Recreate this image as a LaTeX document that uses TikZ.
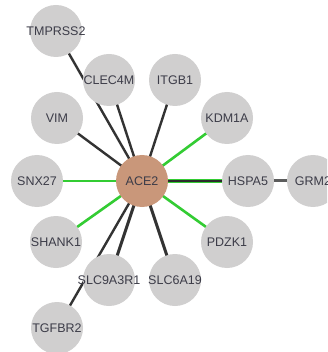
\documentclass[tikz,border=0pt]{standalone}
\usepackage{fontspec}
\setmainfont{Liberation Sans}
\usetikzlibrary{backgrounds}
\definecolor{nodegray}{HTML}{D0CFCF}
\definecolor{hubtan}{HTML}{C9977A}
\definecolor{linkdark}{HTML}{333333}
\definecolor{linkgreen}{HTML}{33CC33}
\definecolor{labelink}{HTML}{3C3C48}
\tikzset{
  gene/.style={circle, fill=nodegray, minimum size=52pt, inner sep=0pt,
    label={[font=\fontsize{12.5}{14}\selectfont, text=labelink, inner sep=0pt]center:#1}},
  hub/.style={gene=#1, fill=hubtan},
  dark/.style={draw=linkdark, line width=2.4pt},
  strong/.style={draw=linkdark, line width=3pt},
  green/.style={draw=linkgreen, line width=2.6pt},
}
\begin{document}
\begin{tikzpicture}[x=1pt, y=-1pt]
  \useasboundingbox (0,0) rectangle (327,352);
  \clip (0,0) rectangle (327,352);

  % genes
  \node[hub=ACE2]       (ace2)  at (142,181) {};
  \node[gene=TMPRSS2]   (tmp)   at (56,31)   {};
  \node[gene=CLEC4M]    (clec)  at (109,80)  {};
  \node[gene=ITGB1]     (itgb)  at (175,80)  {};
  \node[gene=VIM]       (vim)   at (57,118)  {};
  \node[gene=KDM1A]     (kdm)   at (227,118) {};
  \node[gene=SNX27]     (snx)   at (37,181)  {};
  \node[gene=HSPA5]     (hspa)  at (248,181) {};
  \node[gene=GRM2]      (grm)   at (313,181) {};
  \node[gene=SHANK1]    (shank) at (56,242)  {};
  \node[gene=PDZK1]     (pdzk)  at (227,242) {};
  \node[gene=SLC9A3R1]  (slc9)  at (109,280) {};
  \node[gene=SLC6A19]   (slc6)  at (175,280) {};
  \node[gene=TGFBR2]    (tgf)   at (57,328)  {};

  % interactions, drawn behind the genes
  \begin{scope}[on background layer]
    \fill[white] (0,0) rectangle (327,352);
    \draw[dark]   (ace2.center) -- (tmp.center);
    \draw[dark]   (ace2.center) -- (clec.center);
    \draw[dark]   (ace2.center) -- (itgb.center);
    \draw[dark]   (ace2.center) -- (vim.center);
    \draw[green]  (ace2.center) -- (kdm.center);
    \draw[green]  (ace2.center) -- (snx.center);
    \draw[green, line width=3.2pt] (ace2.center) -- (hspa.center);
    \draw[draw=linkdark!85!black, line width=2pt] (ace2.center) -- (hspa.center);
    \draw[draw=linkdark!80, line width=3pt] (hspa.center) -- (grm.center);
    \draw[green]  (ace2.center) -- (shank.center);
    \draw[green]  (ace2.center) -- (pdzk.center);
    \draw[strong] (ace2.center) -- (slc9.center);
    \draw[strong] (ace2.center) -- (slc6.center);
    \draw[dark]   (ace2.center) -- (tgf.center);
  \end{scope}
\end{tikzpicture}
\end{document}
